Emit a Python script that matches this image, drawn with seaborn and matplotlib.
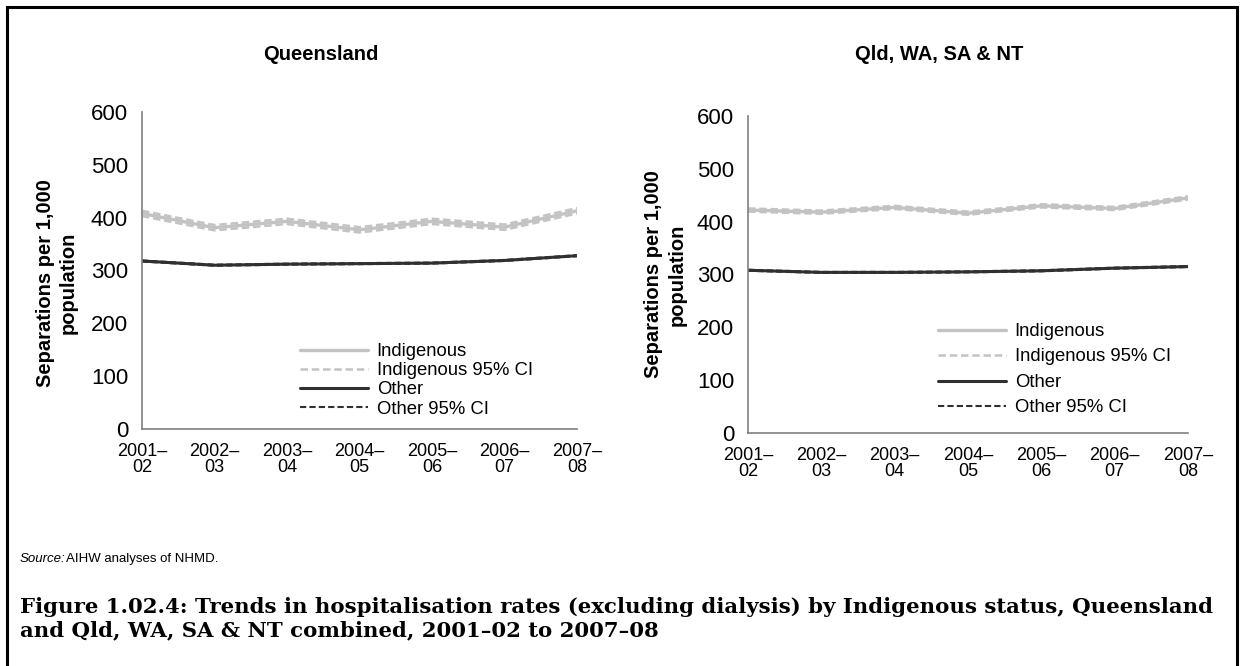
import matplotlib
matplotlib.use("Agg")
import matplotlib.pyplot as plt
import seaborn as sns
import pandas as pd
from matplotlib.patches import Rectangle

YEARS = ["2001–\n02", "2002–\n03", "2003–\n04", "2004–\n05", "2005–\n06", "2006–\n07", "2007–\n08"]

# Queensland
QLD_INDIG = [408, 381, 393, 377, 393, 382, 413]
QLD_INDIG_LO = [403, 376, 388, 372, 388, 377, 408]
QLD_INDIG_HI = [413, 386, 398, 382, 398, 387, 418]
QLD_OTHER = [318, 310, 312, 313, 314, 319, 328]
QLD_OTHER_LO = [317, 309, 311, 312, 313, 318, 327]
QLD_OTHER_HI = [319, 311, 313, 314, 315, 320, 329]

# Qld, WA, SA & NT combined
COMB_INDIG = [422, 418, 427, 416, 430, 425, 445]
COMB_INDIG_LO = [419, 415, 424, 413, 427, 422, 442]
COMB_INDIG_HI = [425, 421, 430, 419, 433, 428, 448]
COMB_OTHER = [308, 304, 304, 305, 307, 312, 315]
COMB_OTHER_LO = [307, 303, 303, 304, 306, 311, 314]
COMB_OTHER_HI = [309, 305, 305, 306, 308, 313, 316]

TITLES = ["Queensland", "Qld, WA, SA & NT"]
Y_LABEL = "Separations per 1,000\npopulation"
SOURCE = "AIHW analyses of NHMD."
CAPTION = ("Figure 1.02.4: Trends in hospitalisation rates (excluding dialysis) by Indigenous status, Queensland\n"
           "and Qld, WA, SA & NT combined, 2001–02 to 2007–08")

LIGHT = "#c3c3c3"
DARK = "#303030"
W, H = 1243, 666


def build_frame(indig, indig_lo, indig_hi, other, other_lo, other_hi):
    return pd.DataFrame({
        "x": range(len(YEARS)),
        "indig": indig, "indig_lo": indig_lo, "indig_hi": indig_hi,
        "other": other, "other_lo": other_lo, "other_hi": other_hi,
    })


def draw_panel(ax, df, legend_anchor, label_spacing, ylabel_xy):
    sns.lineplot(data=df, x="x", y="indig", ax=ax, color=LIGHT, lw=2.4, label="Indigenous")
    sns.lineplot(data=df, x="x", y="indig_lo", ax=ax, color=LIGHT, lw=1.8, ls=(0, (3, 1.5)),
                 label="Indigenous 95% CI")
    sns.lineplot(data=df, x="x", y="indig_hi", ax=ax, color=LIGHT, lw=1.8, ls=(0, (3, 1.5)),
                 label="_ihi")
    sns.lineplot(data=df, x="x", y="other", ax=ax, color=DARK, lw=2.2, label="Other")
    sns.lineplot(data=df, x="x", y="other_lo", ax=ax, color=DARK, lw=1.5, ls=(0, (3, 1.5)),
                 label="Other 95% CI")
    sns.lineplot(data=df, x="x", y="other_hi", ax=ax, color=DARK, lw=1.5, ls=(0, (3, 1.5)),
                 label="_ohi")

    ax.set_xlim(0, len(YEARS) - 1)
    ax.set_ylim(0, 600)
    ax.set_yticks(range(0, 601, 100))
    ax.set_xticks(range(len(YEARS)))
    ax.set_xticklabels(YEARS, fontsize=13, linespacing=0.95)
    ax.tick_params(axis="y", labelsize=16, length=5, width=1, color="#808080", pad=5)
    ax.tick_params(axis="x", length=5, width=1, color="#808080", pad=5)
    for s in ["top", "right"]:
        ax.spines[s].set_visible(False)
    for s in ["left", "bottom"]:
        ax.spines[s].set_color("#808080")
        ax.spines[s].set_linewidth(1.2)
    ax.set_xlabel("")
    ax.set_ylabel(Y_LABEL, fontsize=14.5, fontweight="bold", linespacing=1.3)
    ax.yaxis.set_label_coords(*ylabel_xy)
    ax.legend(loc="upper left", bbox_to_anchor=legend_anchor, bbox_transform=ax.figure.transFigure,
              frameon=False, fontsize=13.3, handlelength=3.7, handletextpad=0.45,
              labelspacing=label_spacing, borderpad=0, borderaxespad=0)


def main():
    sns.set_style("white")
    plt.rcParams["font.family"] = ["Liberation Sans", "DejaVu Sans"]
    plt.rcParams["text.color"] = "black"
    plt.rcParams["axes.labelcolor"] = "black"
    plt.rcParams["xtick.labelcolor"] = "black"
    plt.rcParams["ytick.labelcolor"] = "black"

    fig = plt.figure(figsize=(W / 100, H / 100), dpi=100)
    ax1 = fig.add_axes([142 / W, 1 - 429 / H, 435 / W, 317 / H])
    ax2 = fig.add_axes([748 / W, 1 - 433 / H, 440 / W, 317 / H])

    qld = build_frame(QLD_INDIG, QLD_INDIG_LO, QLD_INDIG_HI, QLD_OTHER, QLD_OTHER_LO, QLD_OTHER_HI)
    comb = build_frame(COMB_INDIG, COMB_INDIG_LO, COMB_INDIG_HI, COMB_OTHER, COMB_OTHER_LO, COMB_OTHER_HI)

    draw_panel(ax1, qld, (300 / W, 1 - 343 / H), 0.12, (-0.147, 0.46))
    draw_panel(ax2, comb, (938 / W, 1 - 323 / H), 0.46, (-0.139, 0.5))

    fig.text(321 / W, 1 - 55 / H, TITLES[0], fontsize=14.5, fontweight="bold", ha="center", va="center")
    fig.text(939 / W, 1 - 55 / H, TITLES[1], fontsize=14.5, fontweight="bold", ha="center", va="center")

    # outer frame
    fig.patches.append(Rectangle((7 / W, -0.05), 1230 / W, 1.05 - 7 / H, transform=fig.transFigure,
                                 fill=False, edgecolor="black", lw=2.2))

    fig.text(20 / W, 1 - 559 / H, "Source:", fontsize=9.5, style="italic", va="center")
    fig.text(66 / W, 1 - 559 / H, SOURCE, fontsize=9.5, va="center")
    fig.text(20 / W, 1 - 619 / H, CAPTION, fontsize=15.3, fontweight="bold", va="center",
             family=["DejaVu Serif"], linespacing=1.2)

    fig.savefig("out.png", dpi=100)
    plt.close(fig)


if __name__ == "__main__":
    main()
